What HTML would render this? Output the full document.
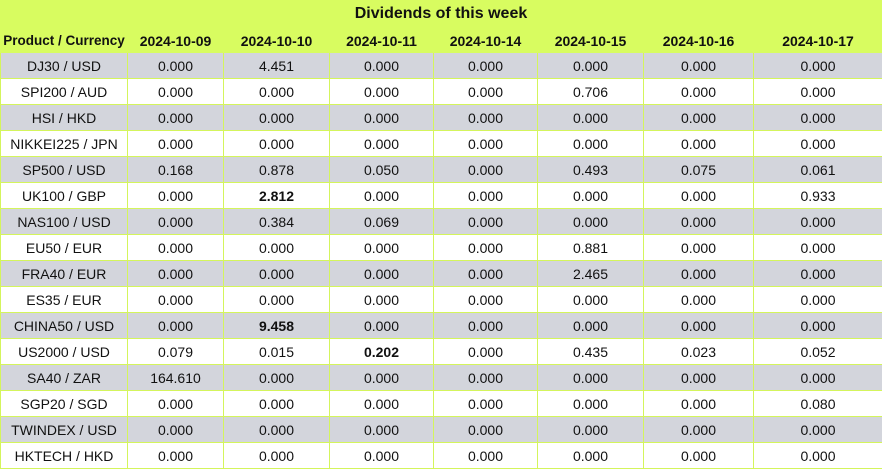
<!DOCTYPE html>
<html><head><meta charset="utf-8"><style>
html,body{margin:0;padding:0;background:#d8fc60;}
body{width:882px;height:469px;overflow:hidden;font-family:"Liberation Sans",Tahoma,sans-serif;}
.title{height:28px;line-height:28px;text-align:center;font-weight:bold;font-size:16px;color:#111;}
table{border-collapse:collapse;table-layout:fixed;width:882px;}
td,th{padding:0;text-align:center;font-size:14px;color:#111;border:1px solid #d4f55c;height:25px;}
th{height:23px;font-weight:bold;border-color:#d8fc60;}
tr.g td{background:#d3d5dc;}
tr.w td{background:#fff;}
b{font-weight:bold;}
</style></head><body>
<div class="title">Dividends of this week</div>
<table>
<colgroup><col style="width:127px"><col style="width:96px"><col style="width:106px"><col style="width:104px"><col style="width:104px"><col style="width:106px"><col style="width:110px"><col style="width:129px"></colgroup>
<tr><th style="font-size:13.5px">Product / Currency</th><th>2024-10-09</th><th>2024-10-10</th><th>2024-10-11</th><th>2024-10-14</th><th>2024-10-15</th><th>2024-10-16</th><th>2024-10-17</th></tr>
<tr class="g"><td>DJ30 / USD</td><td>0.000</td><td>4.451</td><td>0.000</td><td>0.000</td><td>0.000</td><td>0.000</td><td>0.000</td></tr>
<tr class="w"><td>SPI200 / AUD</td><td>0.000</td><td>0.000</td><td>0.000</td><td>0.000</td><td>0.706</td><td>0.000</td><td>0.000</td></tr>
<tr class="g"><td>HSI / HKD</td><td>0.000</td><td>0.000</td><td>0.000</td><td>0.000</td><td>0.000</td><td>0.000</td><td>0.000</td></tr>
<tr class="w"><td>NIKKEI225 / JPN</td><td>0.000</td><td>0.000</td><td>0.000</td><td>0.000</td><td>0.000</td><td>0.000</td><td>0.000</td></tr>
<tr class="g"><td>SP500 / USD</td><td>0.168</td><td>0.878</td><td>0.050</td><td>0.000</td><td>0.493</td><td>0.075</td><td>0.061</td></tr>
<tr class="w"><td>UK100 / GBP</td><td>0.000</td><td><b>2.812</b></td><td>0.000</td><td>0.000</td><td>0.000</td><td>0.000</td><td>0.933</td></tr>
<tr class="g"><td>NAS100 / USD</td><td>0.000</td><td>0.384</td><td>0.069</td><td>0.000</td><td>0.000</td><td>0.000</td><td>0.000</td></tr>
<tr class="w"><td>EU50 / EUR</td><td>0.000</td><td>0.000</td><td>0.000</td><td>0.000</td><td>0.881</td><td>0.000</td><td>0.000</td></tr>
<tr class="g"><td>FRA40 / EUR</td><td>0.000</td><td>0.000</td><td>0.000</td><td>0.000</td><td>2.465</td><td>0.000</td><td>0.000</td></tr>
<tr class="w"><td>ES35 / EUR</td><td>0.000</td><td>0.000</td><td>0.000</td><td>0.000</td><td>0.000</td><td>0.000</td><td>0.000</td></tr>
<tr class="g"><td>CHINA50 / USD</td><td>0.000</td><td><b>9.458</b></td><td>0.000</td><td>0.000</td><td>0.000</td><td>0.000</td><td>0.000</td></tr>
<tr class="w"><td>US2000 / USD</td><td>0.079</td><td>0.015</td><td><b>0.202</b></td><td>0.000</td><td>0.435</td><td>0.023</td><td>0.052</td></tr>
<tr class="g"><td>SA40 / ZAR</td><td>164.610</td><td>0.000</td><td>0.000</td><td>0.000</td><td>0.000</td><td>0.000</td><td>0.000</td></tr>
<tr class="w"><td>SGP20 / SGD</td><td>0.000</td><td>0.000</td><td>0.000</td><td>0.000</td><td>0.000</td><td>0.000</td><td>0.080</td></tr>
<tr class="g"><td>TWINDEX / USD</td><td>0.000</td><td>0.000</td><td>0.000</td><td>0.000</td><td>0.000</td><td>0.000</td><td>0.000</td></tr>
<tr class="w"><td>HKTECH / HKD</td><td>0.000</td><td>0.000</td><td>0.000</td><td>0.000</td><td>0.000</td><td>0.000</td><td>0.000</td></tr>
</table>
</body></html>
